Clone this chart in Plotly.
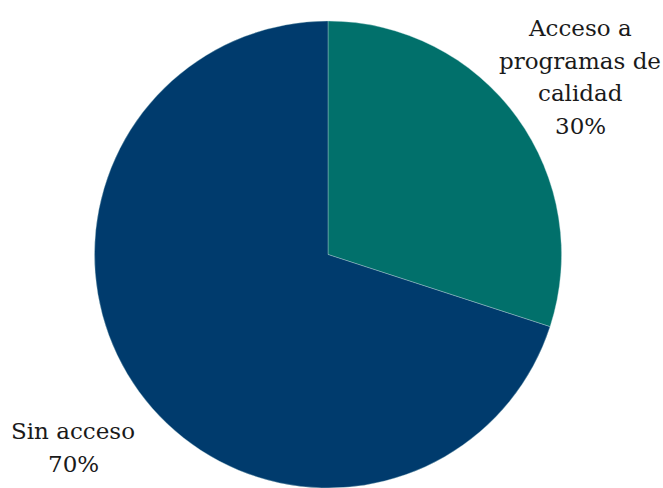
import plotly.graph_objects as go

# Data
categories = ["Acceso a programas de calidad", "Sin acceso"]
values = [30, 70]
label_lines = [["Acceso a", "programas de", "calidad"], ["Sin acceso"]]
colors = ["#01706B", "#003B6D"]

W, H = 663, 488
SERIF = "DejaVu Serif"

# Pie geometry (pixels): centre x and top edge
cx, top = 328, 21
r = (H - top) / 2

fig = go.Figure(
    go.Pie(
        labels=categories,
        values=values,
        sort=False,
        direction="clockwise",
        rotation=0,
        textinfo="none",
        hoverinfo="label+percent",
        marker=dict(colors=colors, line=dict(color="rgba(190,220,220,0.6)", width=0.6)),
        domain=dict(x=[(cx - r) / W, (cx + r) / W], y=[0, 1 - top / H]),
        showlegend=False,
    )
)

# Label blocks: centre x and first-line centre y in pixels, line step
label_pos = [(580, 28), (73, 431)]
line_step = 32.5

annotations = []
for lines, val, (lx, ly) in zip(label_lines, values, label_pos):
    all_lines = lines + [f"{val}%"]
    for i, txt in enumerate(all_lines):
        annotations.append(
            dict(
                x=lx / W,
                y=1 - (ly + i * line_step) / H,
                xref="paper",
                yref="paper",
                text=txt,
                showarrow=False,
                xanchor="center",
                yanchor="middle",
                font=dict(family=SERIF, size=23, color="#1a1a1a"),
            )
        )

fig.update_layout(
    width=W,
    height=H,
    margin=dict(l=0, r=0, t=0, b=0),
    paper_bgcolor="white",
    plot_bgcolor="white",
    annotations=annotations,
)

fig.write_html("out.html")
